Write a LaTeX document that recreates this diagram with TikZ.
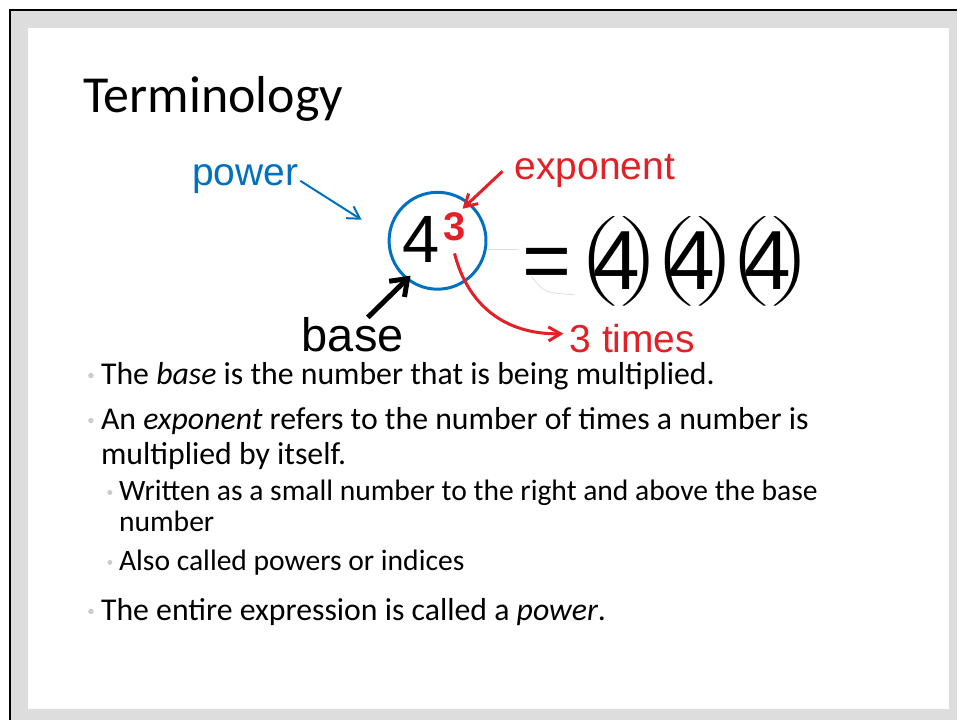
\documentclass[tikz,border=0pt]{standalone}
\usepackage{amsmath}
\usepackage{graphicx}
\usepackage{fontspec}
\setmainfont{Carlito}
\newfontfamily\arialfont{Liberation Sans}
\usetikzlibrary{arrows.meta}
\definecolor{powblue}{RGB}{0,112,192}
\definecolor{expred}{RGB}{226,32,38}
\definecolor{framegray}{RGB}{221,221,221}
\newcommand{\lparen}{\scalebox{1.9}[1]{$\nulldelimiterspace=0pt\left(\vrule height 52pt depth 38pt width 0pt\right.$}}
\newcommand{\rparen}{\scalebox{1.9}[1]{$\nulldelimiterspace=0pt\left.\vrule height 52pt depth 38pt width 0pt\right)$}}

\begin{document}
\begin{tikzpicture}[
      x=1pt, y=-1pt,
      titletxt/.style={anchor=base west, inner sep=0pt, font=\fontsize{52}{60}\selectfont},
      bodytxt/.style={anchor=base west, inner sep=0pt, font=\fontsize{31.8}{36}\selectfont},
      subtxt/.style={anchor=base west, inner sep=0pt, font=\fontsize{29.6}{33}\selectfont},
      bulletdot/.style={circle, fill=gray!40, inner sep=0pt, minimum size=5.5pt},
      lbl/.style={anchor=base west, inner sep=0pt, font=\arialfont\fontsize{39}{44}\selectfont},
      bigtxt/.style={anchor=base, inner sep=0pt, font=\arialfont\fontsize{84}{90}\selectfont},
      paren/.style={inner sep=0pt, font=\fontsize{30.7}{36}\selectfont},
      faint/.style={draw=gray!25, line width=0.8pt},
      pointer/.style={-{Straight Barb[length=12pt, width=14pt]}}
    ]
    % slide frame
    \fill[white] (0,0) rectangle (958,721);
    \fill[framegray] (11,11) rectangle (958,721);
    \draw[line width=2pt] (10,721) -- (10,10) -- (958,10);
    \fill[white] (28,28) rectangle (950,710);
    \useasboundingbox (0,0) rectangle (958,721);

    \node[titletxt] (title) at (83,113) {Terminology};

    % 4^3 = (4)(4)(4)
    \node[circle, draw=powblue, line width=3pt, minimum size=97pt, inner sep=0pt] (circ) at (438,241) {};
    \node[anchor=base, inner sep=0pt, font=\arialfont\fontsize{67}{70}\selectfont] (four) at (422,263) {4};
    \node[anchor=base, inner sep=0pt, text=expred, font=\arialfont\bfseries\fontsize{40}{42}\selectfont] (three) at (455,241) {3};
    \node[bigtxt] (eq) at (547.5,290) {=};
    \foreach \i/\dx in {1/0,2/75.5,3/151}{
      \node[paren] (lp\i) at (597+\dx,261) {\lparen};
      \node[bigtxt] (f\i) at (617.5+\dx,290) {4};
      \node[paren] (rp\i) at (643+\dx,261) {\rparen};
    }
    \draw[faint] (489,250) -- (519,250);
    \draw[faint] (532,277) .. controls (545,293) .. (575,295);

    \node[lbl, text=powblue] (power) at (192,186) {power};
    \node[lbl, text=expred] (expo) at (515,180) {exponent};
    \node[lbl, font=\arialfont\fontsize{47}{52}\selectfont] (base) at (302,352) {base};
    \node[lbl, text=expred] (times) at (570,353) {3 times};

    \coordinate (powtip) at (362,220);
    \coordinate (exptip) at (463,209);
    \coordinate (basetip) at (411,276);
    \draw[pointer, powblue, line width=2pt] ([xshift=2pt,yshift=5pt]power.base east) -- (powtip);
    \draw[pointer, expred, line width=3pt] ([xshift=-12pt]expo.west) -- (exptip);
    \draw[-{Straight Barb[length=15pt, width=22pt]}, line width=5pt] ([xshift=15pt]base.north) -- (basetip);
    \draw[pointer, expred, line width=3pt] ([yshift=-12pt]three.south) .. controls (468,305) and (505,335) .. ([xshift=-6pt,yshift=5pt]times.west);

    % bullets
    \node[bulletdot] (d1) at (91,376) {};
    \node[bodytxt] (l1) at (101,385) {The \textit{base} is the number that is being multiplied.};
    \node[bulletdot] (d2) at (91,421) {};
    \node[bodytxt] (l2) at (101,430) {An \textit{exponent} refers to the number of times a number is};
    \node[bodytxt] (l3) at (101,465) {multiplied by itself.};
    \node[bulletdot, minimum size=5pt] (d3) at (110,493) {};
    \node[subtxt] (l4) at (119,501) {Written as a small number to the right and above the base};
    \node[subtxt] (l5) at (119,532) {number};
    \node[bulletdot, minimum size=5pt] (d4) at (110,563) {};
    \node[subtxt] (l6) at (119,571) {Also called powers or indices};
    \node[bulletdot] (d5) at (91,612) {};
    \node[bodytxt] (l7) at (101,621) {The entire expression is called a \textit{power}.};
  \end{tikzpicture}
\end{document}
